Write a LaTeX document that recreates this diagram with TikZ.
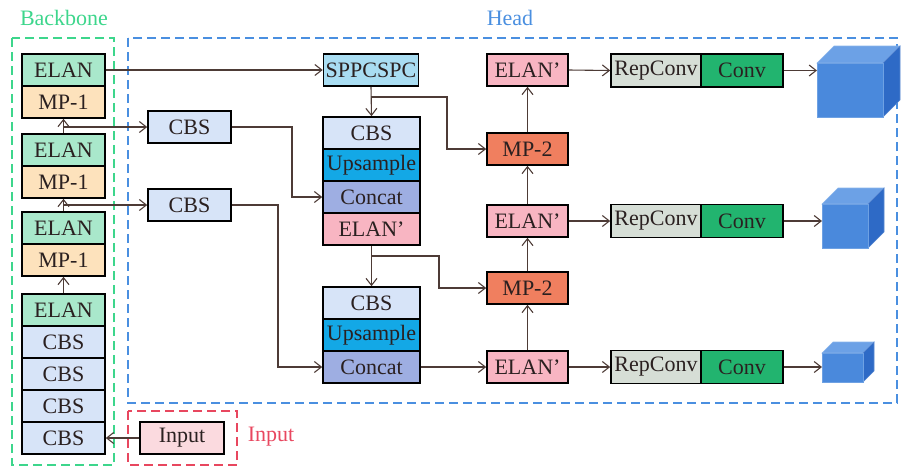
\documentclass[tikz,border=0pt]{standalone}
\usepackage{fontspec}
\setmainfont{Liberation Serif}
\usetikzlibrary{arrows.meta}
\definecolor{elanc}{HTML}{A9E8CB}
\definecolor{mpone}{HTML}{FDE2BC}
\definecolor{cbsc}{HTML}{D7E4F8}
\definecolor{sppc}{HTML}{A9DDF2}
\definecolor{upc}{HTML}{13A8E6}
\definecolor{concc}{HTML}{9EAEE2}
\definecolor{elanp}{HTML}{F8B5C2}
\definecolor{mptwo}{HTML}{F07F5F}
\definecolor{repc}{HTML}{D6DED6}
\definecolor{convc}{HTML}{22B46F}
\definecolor{inpc}{HTML}{FBDADF}
\definecolor{linec}{HTML}{4D3B36}
\definecolor{gdash}{HTML}{3DD68C}
\definecolor{bdash}{HTML}{4A8FE0}
\definecolor{rdash}{HTML}{E8475F}
\definecolor{cubef}{HTML}{4A89DC}
\definecolor{cubet}{HTML}{6CA1E6}
\definecolor{cubes}{HTML}{2E6AC6}
\definecolor{textc}{HTML}{2A2020}
\begin{document}
\begin{tikzpicture}[x=1pt,y=-1pt,
  font=\fontsize{22}{24}\selectfont,
  cell/.style={draw=black, line width=1.6pt, inner sep=0pt, text=textc, minimum height=32pt},
  bb/.style={cell, minimum width=83pt},
  mid/.style={cell, minimum width=97pt},
  rc/.style={cell, minimum width=81pt},
  arr/.style={draw=linec, line width=1.1pt, -{Straight Barb[length=7pt,width=11pt,line width=1.1pt]}},
  ln/.style={draw=linec, line width=1.1pt},
  dbox/.style={line width=1.8pt, dash pattern=on 9pt off 5pt}]
\useasboundingbox (0,0) rectangle (901,467);
% dashed regions
\draw[dbox, gdash] (12,38) rectangle (114,465);
\draw[dbox, bdash] (128,38) rectangle (897,403);
\draw[dbox, rdash] (128,411) rectangle (237,465);
\node[text=gdash] (lbb) at (64,18) {Backbone};
\node[text=bdash] (lhead) at (510,18) {Head};
\node[text=rdash] (linp) at (271,437) {Input};
% backbone
\node[bb, fill=elanc] (e1) at (63.5,70) {ELAN};
\node[bb, fill=mpone] (m1) at (63.5,102) {MP-1};
\node[bb, fill=elanc] (e2) at (63.5,150) {ELAN};
\node[bb, fill=mpone] (m2) at (63.5,182) {MP-1};
\node[bb, fill=elanc] (e3) at (63.5,228) {ELAN};
\node[bb, fill=mpone] (m3) at (63.5,260) {MP-1};
\node[bb, fill=elanc] (e4) at (63.5,310) {ELAN};
\node[bb, fill=cbsc] (c1) at (63.5,342) {CBS};
\node[bb, fill=cbsc] (c2) at (63.5,374) {CBS};
\node[bb, fill=cbsc] (c3) at (63.5,406) {CBS};
\node[bb, fill=cbsc] (c4) at (63.5,438) {CBS};
\node[cell, fill=inpc, minimum width=84pt] (inp) at (182,438) {Input};
% side CBS
\node[bb, fill=cbsc] (s1) at (189.5,127) {CBS};
\node[bb, fill=cbsc] (s2) at (189.5,205) {CBS};
% middle stacks
\node[cell, fill=sppc, minimum width=95pt] (spp) at (371,70) {SPPCSPC};
\node[mid, fill=cbsc] (ka) at (371.5,133) {CBS};
\node[mid, fill=upc] (ua) at (371.5,165) {Upsample};
\node[mid, fill=concc] (ca) at (371.5,197) {Concat};
\node[mid, fill=elanp] (ea) at (371.5,229) {ELAN’};
\node[mid, fill=cbsc] (kb) at (371.5,303) {CBS};
\node[mid, fill=upc] (ub) at (371.5,335) {Upsample};
\node[mid, fill=concc] (cb) at (371.5,367) {Concat};
% right column
\node[rc, fill=elanp] (r1) at (527.5,70) {ELAN’};
\node[rc, fill=mptwo] (p1) at (527.5,149) {MP-2};
\node[rc, fill=elanp] (r2) at (527.5,221) {ELAN’};
\node[rc, fill=mptwo] (p2) at (527.5,288) {MP-2};
\node[rc, fill=elanp] (r3) at (527.5,367) {ELAN’};
% RepConv / Conv
\foreach \i/\yy in {1/70.5,2/221,3/367}{
  \node[cell, fill=repc, minimum width=90pt, minimum height=33pt] (rep\i) at (656,\yy) {RepConv};
  \node[cell, fill=convc, minimum width=82pt, minimum height=33pt] (cv\i) at (742,\yy) {Conv};
}
% cubes
\newcommand{\cubeat}[6]{% name, x, y(top), w, h, d
  \fill[cubet, draw=cubet!80!white, line width=0.6pt] (#2,#3) -- ++(#6,-#6) -- ++(#4,0) -- ++(-#6,#6) -- cycle;
  \fill[cubes, draw=cubes!80!white, line width=0.6pt] (#2+#4,#3) -- ++(#6,-#6) -- ++(0,#5) -- ++(-#6,#6) -- cycle;
  \fill[cubef, draw=cubef!80!white, line width=0.6pt] (#2,#3) rectangle ++(#4,#5);
  \coordinate (#1) at (#2,#3);
}
\cubeat{q1}{817}{63}{66}{54}{17}
\cubeat{q2}{822}{204}{46}{44}{16}
\cubeat{q3}{822}{353}{41}{29}{11}
% backbone arrows
\draw[arr] (e4.north) -- (m3.south);
\draw[arr] (e3.north) -- (m2.south);
\draw[arr] (e2.north) -- (m1.south);
\draw[arr] (e2.north |- s1.west) -- (s1.west);
\draw[arr] (e3.north |- s2.west) -- (s2.west);
\draw[arr] (inp.west) -- (c4.east);
% to neck
\draw[arr] (e1.east) -- (spp.west);
\coordinate (j1) at (292,0);
\coordinate (j2) at (278,0);
\draw[arr] (s1.east) -| (j1 |- ca.west) -- (ca.west);
\draw[arr] (s2.east) -| (j2 |- cb.west) -- (cb.west);
\draw[arr] (spp.south) -- (ka.north);
\coordinate (b1) at (371,97);
\coordinate (b1x) at (447,97);
\draw[arr] (b1) -- (b1x) |- (p1.west);
\draw[arr] (ea.south) -- (kb.north);
\coordinate (b2) at (371,256);
\coordinate (b2x) at (439,256);
\draw[arr] (b2) -- (b2x) |- (p2.west);
\draw[arr] (cb.east) -- (r3.west);
% right column arrows
\draw[arr] (r3.north) -- (p2.south);
\draw[arr] (p2.north) -- (r2.south);
\draw[arr] (r2.north) -- (p1.south);
\draw[arr] (p1.north) -- (r1.south);
\foreach \i in {1,2,3}{
  \draw[arr] (r\i.east) -- (rep\i.west);
  \draw[arr] (cv\i.east) -- (cv\i.east -| q\i);
}
\end{tikzpicture}
\end{document}
